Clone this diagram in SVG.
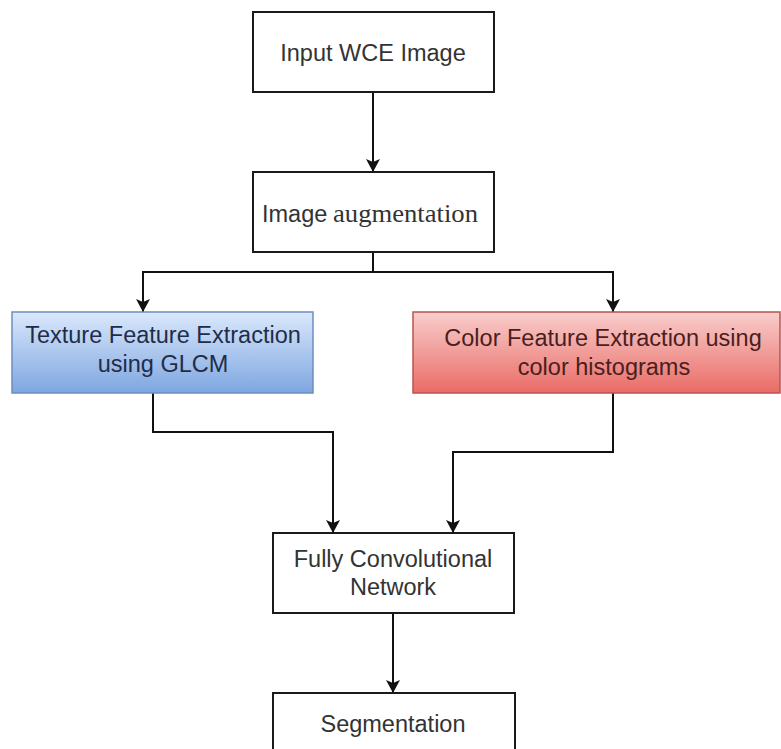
<svg xmlns="http://www.w3.org/2000/svg" width="781" height="749" viewBox="0 0 781 749">
<style>
.box{fill:#ffffff;stroke:#1a1a1a;stroke-width:2}
.t{font-family:"Liberation Sans",Arial,sans-serif;font-size:23.5px;fill:#333333;text-anchor:middle}
.s{font-family:"Liberation Serif","Times New Roman",serif}
.conn{fill:none;stroke:#111111;stroke-width:2}
</style>
<defs>
<linearGradient id="gBlue" x1="0" y1="0" x2="0" y2="1">
<stop offset="0" stop-color="#dae8fc"/>
<stop offset="1" stop-color="#7ea6e0"/>
</linearGradient>
<linearGradient id="gRed" x1="0" y1="0" x2="0" y2="1">
<stop offset="0" stop-color="#f8cecc"/>
<stop offset="1" stop-color="#ea6b66"/>
</linearGradient>
<marker id="arr" markerUnits="userSpaceOnUse" markerWidth="13" markerHeight="14" refX="13" refY="7" orient="auto" viewBox="0 0 13 14">
<path d="M0,0 L13,7 L0,14 L3,7 Z" fill="#111111"/>
</marker>
</defs>
<rect width="781" height="749" fill="#ffffff"/>
<g id="connectors">
<path class="conn" d="M373,92 V172" marker-end="url(#arr)"/>
<path class="conn" d="M373,252 V272 H143 V312" marker-end="url(#arr)"/>
<path class="conn" d="M373,272 H613 V312" marker-end="url(#arr)"/>
<path class="conn" d="M153,393 V432 H333 V533" marker-end="url(#arr)"/>
<path class="conn" d="M613,393 V452 H453 V533" marker-end="url(#arr)"/>
<path class="conn" d="M393,613 V693" marker-end="url(#arr)"/>
</g>
<g id="input">
<rect class="box" x="253" y="12" width="241" height="80"/>
<text class="t" x="373" y="61">Input WCE Image</text>
</g>
<g id="augmentation">
<rect class="box" x="253" y="172" width="241" height="80"/>
<text class="t" x="262" y="222" style="text-anchor:start">Image</text>
<text class="s" x="333" y="222" font-size="26" fill="#333333" textLength="145" lengthAdjust="spacingAndGlyphs">augmentation</text>
</g>
<g id="texture">
<rect x="12" y="312" width="301" height="81" fill="url(#gBlue)" stroke="#6c8ebf" stroke-width="1.5"/>
<text class="t" x="163" y="343" style="fill:#1f2d4a">Texture Feature Extraction</text>
<text class="t" x="163" y="372" style="fill:#1f2d4a">using GLCM</text>
</g>
<g id="color">
<rect x="413" y="312" width="367" height="81" fill="url(#gRed)" stroke="#b85450" stroke-width="1.5"/>
<text class="t" x="603" y="346" style="fill:#4a1e1e">Color Feature Extraction using</text>
<text class="t" x="604" y="375" style="fill:#4a1e1e">color histograms</text>
</g>
<g id="fcn">
<rect class="box" x="273" y="533" width="241" height="80"/>
<text class="t" x="393" y="567">Fully Convolutional</text>
<text class="t" x="393" y="595">Network</text>
</g>
<g id="segmentation">
<rect class="box" x="273" y="693" width="242" height="70"/>
<text class="t" x="393" y="732">Segmentation</text>
</g>
</svg>
